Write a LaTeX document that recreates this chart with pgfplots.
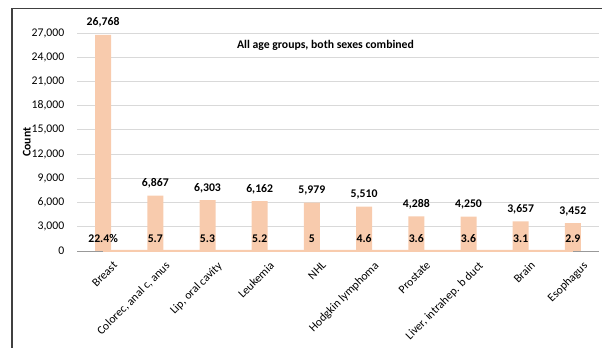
\documentclass[border=0pt]{standalone}
\usepackage{pgfplots}
\pgfplotsset{compat=1.18}
\usepackage{fontspec}
\setmainfont{Carlito}
\definecolor{barfill}{HTML}{F8CBAD}
\definecolor{linecol}{HTML}{F8CBAD}
\definecolor{gridc}{HTML}{D9D9D9}
\newcommand\f{\fontsize{8.8}{10}\selectfont}
\begin{document}
\begin{tikzpicture}
\useasboundingbox (-57.75pt,-72.75pt) rectangle (393.75pt,188.25pt);
\draw[color=black!75, line width=0.8pt] (-48.75pt,-80pt) -- (-48.75pt,182pt) -- (400pt,182pt);
\begin{axis}[
 at={(0,0)}, anchor=south west, scale only axis,
 width=391.5pt, height=163.5pt,
 xmin=-0.5, xmax=9.5, ymin=0, ymax=27000,
 ytick={0,3000,...,27000},
 xtick={0,...,9},
 xticklabels={Breast,{Colorec, anal c, anus},{Lip, oral cavity},Leukemia,NHL,Hodgkin lymphoma,Prostate,{Liver, intrahep. b duct},Brain,Esophagus},
 ymajorgrids, grid style={gridc, line width=0.6pt},
 axis lines=left,
 y axis line style={draw=none},
 x axis line style={draw=black!40, line width=0.6pt, -},
 major tick length=0pt,
 scaled y ticks=false,
 /pgf/number format/.cd, 1000 sep={,}, assume math mode=true, /pgfplots/.cd,
 yticklabel style={font=\f, xshift=-6pt},
 xticklabel style={font=\f, rotate=45, anchor=north east, inner sep=1pt, yshift=-9pt, xshift=1pt},
 ylabel={\bfseries Count},
 ylabel style={font=\f, at={(axis description cs:-0.096,0.5)}, anchor=center},
 clip=false,
]
\addplot[ybar, bar width=12pt, fill=barfill, draw=none,
  nodes near coords, nodes near coords style={font=\f\bfseries, yshift=2pt}]
 coordinates {(0,26768) (1,6867) (2,6303) (3,6162) (4,5979) (5,5510) (6,4288) (7,4250) (8,3657) (9,3452)};
\addplot[linecol, line width=1.5pt, mark=none, point meta=explicit symbolic,
  nodes near coords, nodes near coords style={font=\f\bfseries, text=black, anchor=center, yshift=9.5pt}]
 coordinates {(0,22.4)[22.4\%] (1,5.7)[5.7] (2,5.3)[5.3] (3,5.2)[5.2] (4,5)[5] (5,4.6)[4.6] (6,3.6)[3.6] (7,3.6)[3.6] (8,3.1)[3.1] (9,2.9)[2.9]};
\node[font=\f\bfseries] at (rel axis cs:0.476,0.945) {All age groups, both sexes combined};
\end{axis}
\end{tikzpicture}
\end{document}
